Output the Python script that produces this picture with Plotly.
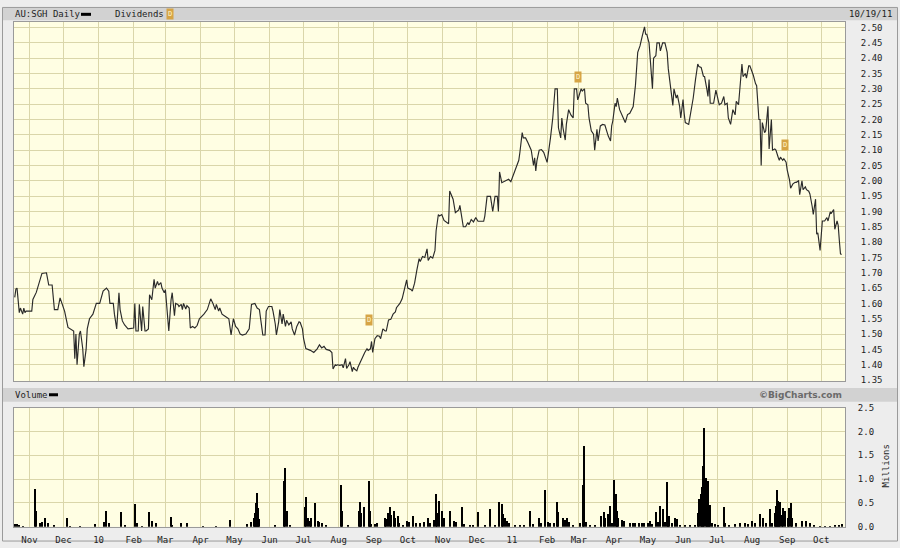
import plotly.graph_objects as go

# ---------------- data ----------------
price_dates = [
    "2009-10-19","2009-10-20","2009-10-21","2009-10-22","2009-10-23","2009-10-24","2009-10-26","2009-10-27","2009-10-28","2009-10-29",
    "2009-11-03","2009-11-04","2009-11-07","2009-11-12","2009-11-16","2009-11-18","2009-11-21","2009-11-23","2009-11-26","2009-11-28","2009-11-29",
    "2009-12-02","2009-12-05","2009-12-07","2009-12-10","2009-12-11","2009-12-12","2009-12-13","2009-12-15","2009-12-16","2009-12-18","2009-12-19","2009-12-21","2009-12-22","2009-12-24","2009-12-27","2009-12-30",
    "2010-01-02","2010-01-05","2010-01-08","2010-01-10","2010-01-11","2010-01-14","2010-01-15","2010-01-17","2010-01-19","2010-01-20","2010-01-22","2010-01-24","2010-01-27","2010-01-30",
    "2010-02-01","2010-02-02","2010-02-03","2010-02-05","2010-02-06","2010-02-08","2010-02-09","2010-02-11","2010-02-12","2010-02-14","2010-02-15","2010-02-17","2010-02-19","2010-02-20","2010-02-22","2010-02-23","2010-02-25","2010-02-26","2010-02-28",
    "2010-03-01","2010-03-03","2010-03-04","2010-03-06","2010-03-07","2010-03-09","2010-03-10","2010-03-12","2010-03-13","2010-03-15","2010-03-16","2010-03-17","2010-03-19","2010-03-20","2010-03-22","2010-03-23","2010-03-25","2010-03-27","2010-03-29","2010-03-31",
    "2010-04-04","2010-04-07","2010-04-10","2010-04-12","2010-04-14","2010-04-15","2010-04-17","2010-04-18","2010-04-20","2010-04-22","2010-04-24","2010-04-26","2010-04-28","2010-04-29","2010-04-30",
    "2010-05-02","2010-05-04","2010-05-06","2010-05-08","2010-05-11","2010-05-14","2010-05-16","2010-05-19","2010-05-21","2010-05-23","2010-05-26","2010-05-28","2010-05-29","2010-05-31",
    "2010-06-03","2010-06-04","2010-06-06","2010-06-07","2010-06-09","2010-06-10","2010-06-12","2010-06-13","2010-06-15","2010-06-16","2010-06-18","2010-06-20","2010-06-21","2010-06-23","2010-06-25","2010-06-27","2010-06-28","2010-06-30",
    "2010-07-01","2010-07-03","2010-07-07","2010-07-10","2010-07-13","2010-07-15","2010-07-17","2010-07-19","2010-07-21","2010-07-24","2010-07-26","2010-07-27","2010-07-29","2010-07-30","2010-07-31",
    "2010-08-02","2010-08-04","2010-08-05","2010-08-07","2010-08-08","2010-08-10","2010-08-11","2010-08-13","2010-08-14","2010-08-15","2010-08-17","2010-08-18","2010-08-20","2010-08-22","2010-08-24","2010-08-26","2010-08-27","2010-08-29","2010-08-30","2010-08-31",
    "2010-09-02","2010-09-04","2010-09-06","2010-09-07","2010-09-09","2010-09-11","2010-09-12","2010-09-14","2010-09-16","2010-09-18","2010-09-20","2010-09-21","2010-09-24","2010-09-26","2010-09-28","2010-09-30",
    "2010-10-01","2010-10-04","2010-10-05","2010-10-07","2010-10-09","2010-10-11","2010-10-12","2010-10-14","2010-10-16","2010-10-18","2010-10-19","2010-10-21","2010-10-23","2010-10-25","2010-10-26","2010-10-28","2010-10-29","2010-10-31",
    "2010-11-02","2010-11-04","2010-11-06","2010-11-07","2010-11-09","2010-11-10","2010-11-12","2010-11-13","2010-11-15","2010-11-16","2010-11-18","2010-11-19","2010-11-21","2010-11-23","2010-11-24","2010-11-26","2010-11-28","2010-11-30",
    "2010-12-02","2010-12-05","2010-12-07","2010-12-08","2010-12-10","2010-12-13","2010-12-15","2010-12-17","2010-12-19","2010-12-20","2010-12-21","2010-12-23","2010-12-26","2010-12-29","2010-12-31",
    "2011-01-04","2011-01-07","2011-01-08","2011-01-10","2011-01-11","2011-01-13","2011-01-15","2011-01-17","2011-01-18","2011-01-20","2011-01-21","2011-01-22","2011-01-23","2011-01-25","2011-01-27","2011-01-29","2011-01-31",
    "2011-02-01","2011-02-04","2011-02-06","2011-02-08","2011-02-10","2011-02-11","2011-02-13","2011-02-14","2011-02-15","2011-02-17","2011-02-18","2011-02-20","2011-02-22","2011-02-24","2011-02-25","2011-02-27","2011-02-28",
    "2011-03-01","2011-03-03","2011-03-04","2011-03-06","2011-03-07","2011-03-09","2011-03-10","2011-03-12","2011-03-14","2011-03-15","2011-03-17","2011-03-18","2011-03-20","2011-03-22","2011-03-24","2011-03-26","2011-03-27","2011-03-29","2011-03-30","2011-03-31",
    "2011-04-02","2011-04-03","2011-04-04","2011-04-06","2011-04-08","2011-04-09","2011-04-11","2011-04-13","2011-04-15","2011-04-18","2011-04-20","2011-04-22","2011-04-24","2011-04-26","2011-04-28","2011-04-29","2011-04-30",
    "2011-05-02","2011-05-03","2011-05-05","2011-05-06","2011-05-08","2011-05-09","2011-05-11","2011-05-12","2011-05-14","2011-05-16","2011-05-18","2011-05-19","2011-05-21","2011-05-23","2011-05-24","2011-05-26","2011-05-27","2011-05-29","2011-05-30",
    "2011-06-01","2011-06-02","2011-06-03","2011-06-06","2011-06-07","2011-06-09","2011-06-10","2011-06-12","2011-06-14","2011-06-15","2011-06-17","2011-06-19","2011-06-20","2011-06-22","2011-06-23","2011-06-24","2011-06-25","2011-06-28","2011-06-29","2011-06-30",
    "2011-07-03","2011-07-05","2011-07-07","2011-07-08","2011-07-10","2011-07-11","2011-07-13","2011-07-14","2011-07-15","2011-07-17","2011-07-18","2011-07-20","2011-07-21","2011-07-23","2011-07-24","2011-07-26","2011-07-27","2011-07-29","2011-07-30","2011-07-31",
    "2011-08-02","2011-08-04","2011-08-05","2011-08-07","2011-08-08","2011-08-09","2011-08-10","2011-08-12","2011-08-13","2011-08-15","2011-08-16","2011-08-18","2011-08-19","2011-08-21","2011-08-22","2011-08-24","2011-08-25","2011-08-26","2011-08-28","2011-08-29","2011-08-31",
    "2011-09-01","2011-09-03","2011-09-04","2011-09-06","2011-09-08","2011-09-09","2011-09-11","2011-09-12","2011-09-14","2011-09-15","2011-09-17","2011-09-18","2011-09-20","2011-09-21","2011-09-23","2011-09-24","2011-09-26","2011-09-27","2011-09-28","2011-09-30",
    "2011-10-02","2011-10-04","2011-10-06","2011-10-07","2011-10-09","2011-10-10","2011-10-12","2011-10-13","2011-10-15","2011-10-16","2011-10-17","2011-10-18","2011-10-19",
]
price_close = [
    1.62,1.647,1.65,1.603,1.57,1.585,1.565,1.585,1.57,1.575,
    1.575,1.613,1.636,1.698,1.70,1.66,1.66,1.58,1.58,1.618,1.607,
    1.575,1.522,1.517,1.51,1.42,1.50,1.40,1.50,1.51,1.453,1.394,1.45,1.517,1.55,1.565,1.60,
    1.60,1.64,1.65,1.64,1.60,1.60,1.565,1.517,1.635,1.58,1.543,1.53,1.517,1.52,
    1.52,1.60,1.51,1.51,1.597,1.51,1.59,1.51,1.51,1.517,1.628,1.612,1.679,1.65,1.672,1.66,1.668,1.65,1.635,
    1.645,1.554,1.51,1.612,1.635,1.56,1.60,1.597,1.59,1.597,1.58,1.60,1.582,1.593,1.585,1.52,1.525,1.52,1.528,1.55,
    1.565,1.58,1.615,1.60,1.58,1.597,1.575,1.585,1.565,1.56,1.554,1.55,1.497,1.533,1.55,
    1.525,1.517,1.50,1.497,1.50,1.517,1.597,1.60,1.585,1.58,1.497,1.497,1.575,1.59,
    1.59,1.575,1.533,1.497,1.54,1.58,1.533,1.565,1.525,1.545,1.53,1.54,1.517,1.497,1.525,1.54,1.538,1.517,
    1.485,1.453,1.447,1.44,1.452,1.465,1.455,1.46,1.45,1.447,1.44,1.386,1.40,1.398,1.40,
    1.398,1.40,1.39,1.42,1.388,1.40,1.41,1.378,1.392,1.386,1.38,1.392,1.41,1.425,1.44,1.452,1.447,1.452,1.476,1.44,
    1.485,1.495,1.493,1.485,1.517,1.51,1.51,1.546,1.548,1.565,1.572,1.586,1.60,1.615,1.645,1.677,
    1.65,1.645,1.64,1.666,1.709,1.746,1.737,1.753,1.75,1.778,1.74,1.753,1.748,1.773,1.837,1.89,1.885,1.89,
    1.871,1.866,1.86,1.967,1.944,1.94,1.896,1.90,1.905,1.92,1.864,1.85,1.85,1.864,1.857,1.874,1.866,1.88,
    1.868,1.868,1.868,1.885,1.949,1.949,1.90,1.949,1.949,1.90,2.029,1.994,2.0,2.005,1.997,
    2.035,2.067,2.093,2.157,2.14,2.14,2.125,2.104,2.10,2.05,2.075,2.032,2.065,2.10,2.102,2.093,2.075,
    2.06,2.141,2.205,2.30,2.30,2.173,2.14,2.205,2.173,2.133,2.184,2.232,2.215,2.205,2.30,2.30,2.264,
    2.275,2.30,2.293,2.30,2.253,2.248,2.205,2.163,2.152,2.10,2.168,2.13,2.179,2.184,2.182,2.157,2.146,2.13,2.179,2.195,
    2.253,2.242,2.27,2.232,2.216,2.205,2.19,2.216,2.22,2.242,2.312,2.419,2.44,2.472,2.502,2.478,2.478,
    2.45,2.387,2.30,2.40,2.408,2.45,2.45,2.424,2.45,2.45,2.419,2.365,2.30,2.246,2.30,2.27,2.28,2.243,2.205,
    2.265,2.22,2.19,2.184,2.205,2.25,2.27,2.33,2.381,2.373,2.37,2.341,2.34,2.30,2.275,2.33,2.253,2.253,2.275,2.296,
    2.248,2.253,2.275,2.248,2.253,2.205,2.184,2.205,2.232,2.215,2.259,2.248,2.285,2.381,2.34,2.35,2.335,2.375,2.375,2.365,
    2.345,2.317,2.31,2.20,2.20,2.05,2.19,2.157,2.163,2.243,2.104,2.20,2.10,2.104,2.10,2.077,2.067,2.077,2.067,2.072,2.061,
    2.035,2.003,1.976,1.99,1.995,1.995,2.0,1.955,2.0,1.971,1.98,1.971,1.966,1.957,1.917,1.89,1.94,1.826,1.83,1.773,
    1.869,1.869,1.88,1.869,1.899,1.895,1.906,1.842,1.869,1.855,1.805,1.762,1.76,
]

vol_dates = [
    "2009-10-19","2009-10-21","2009-10-23","2009-10-26",
    "2009-11-06","2009-11-07","2009-11-10","2009-11-12","2009-11-15","2009-11-17","2009-11-23",
    "2009-12-04","2009-12-07","2009-12-16","2009-12-29",
    "2010-01-06","2010-01-08","2010-01-10","2010-01-21","2010-01-24",
    "2010-02-02","2010-02-04","2010-02-08","2010-02-15","2010-02-17","2010-02-21",
    "2010-03-06","2010-03-07","2010-03-15","2010-03-20",
    "2010-04-03","2010-04-15","2010-04-27",
    "2010-05-12","2010-05-16","2010-05-18","2010-05-19","2010-05-20","2010-05-21","2010-05-22","2010-05-23",
    "2010-06-06","2010-06-14","2010-06-15","2010-06-16","2010-06-19",
    "2010-07-02","2010-07-03","2010-07-05","2010-07-07","2010-07-08","2010-07-11","2010-07-14","2010-07-15","2010-07-17","2010-07-21",
    "2010-08-03","2010-08-04","2010-08-09","2010-08-19","2010-08-20","2010-08-21","2010-08-23","2010-08-28","2010-08-29","2010-08-30",
    "2010-09-02","2010-09-04","2010-09-11","2010-09-12","2010-09-14","2010-09-15","2010-09-16","2010-09-19","2010-09-20","2010-09-22","2010-09-23","2010-09-27","2010-09-30",
    "2010-10-02","2010-10-06","2010-10-08","2010-10-12","2010-10-15","2010-10-19","2010-10-21","2010-10-24","2010-10-26","2010-10-27","2010-10-29","2010-10-31",
    "2010-11-02","2010-11-07","2010-11-11","2010-11-13","2010-11-18","2010-11-20","2010-11-25","2010-11-28",
    "2010-12-02","2010-12-08","2010-12-13","2010-12-17","2010-12-21","2010-12-23","2010-12-24","2010-12-26","2010-12-28","2010-12-29",
    "2011-01-04","2011-01-08","2011-01-12","2011-01-17","2011-01-20","2011-01-25","2011-01-27","2011-01-30",
    "2011-02-02","2011-02-04","2011-02-07","2011-02-10","2011-02-11","2011-02-15","2011-02-17","2011-02-19","2011-02-20","2011-02-24",
    "2011-03-02","2011-03-05","2011-03-06","2011-03-07","2011-03-11","2011-03-15","2011-03-21","2011-03-23","2011-03-24","2011-03-27","2011-03-29","2011-03-30",
    "2011-04-01","2011-04-03","2011-04-04","2011-04-05","2011-04-08","2011-04-10","2011-04-15","2011-04-18","2011-04-20","2011-04-23","2011-04-26","2011-04-28",
    "2011-05-01","2011-05-03","2011-05-05","2011-05-08","2011-05-10","2011-05-12","2011-05-14","2011-05-16","2011-05-18","2011-05-19","2011-05-20","2011-05-22","2011-05-25","2011-05-27","2011-05-29",
    "2011-06-03","2011-06-07","2011-06-12","2011-06-14","2011-06-15","2011-06-17","2011-06-18","2011-06-19","2011-06-20","2011-06-21","2011-06-22","2011-06-23","2011-06-24","2011-06-25","2011-06-27","2011-06-29",
    "2011-07-02","2011-07-07","2011-07-08","2011-07-12","2011-07-17","2011-07-21","2011-07-26","2011-07-28",
    "2011-08-01","2011-08-04","2011-08-08","2011-08-11","2011-08-13","2011-08-17","2011-08-19","2011-08-21","2011-08-22","2011-08-23","2011-08-24","2011-08-25","2011-08-26","2011-08-27","2011-08-28","2011-08-30",
    "2011-09-02","2011-09-03","2011-09-04","2011-09-05","2011-09-09","2011-09-14","2011-09-18","2011-09-21","2011-09-25","2011-09-30",
    "2011-10-04","2011-10-09","2011-10-13","2011-10-17","2011-10-19",
]
vol_millions = [
    0.06,0.07,0.05,0.03,
    0.80,0.35,0.10,0.12,0.20,0.08,0.04,
    0.20,0.03,0.03,0.06,
    0.12,0.35,0.10,0.31,0.04,
    0.49,0.10,0.03,0.31,0.14,0.10,
    0.22,0.05,0.10,0.08,
    0.03,0.03,0.15,
    0.06,0.12,0.20,0.30,0.50,0.71,0.40,0.18,
    0.04,0.98,1.24,0.35,0.04,
    0.42,0.64,0.20,0.14,0.20,0.50,0.14,0.12,0.10,0.05,
    0.88,0.35,0.05,0.35,0.53,0.30,0.42,0.97,0.35,0.06,
    0.06,0.08,0.20,0.18,0.30,0.43,0.25,0.35,0.20,0.24,0.10,0.05,0.14,
    0.12,0.24,0.08,0.10,0.12,0.20,0.08,0.15,0.69,0.30,0.55,0.35,
    0.20,0.35,0.14,0.12,0.42,0.06,0.05,0.04,
    0.31,0.04,0.38,0.04,0.52,0.49,0.28,0.20,0.14,0.10,
    0.04,0.04,0.05,0.35,0.06,0.20,0.08,0.79,
    0.12,0.08,0.10,0.52,0.31,0.20,0.16,0.20,0.12,0.05,
    0.10,0.88,1.70,0.12,0.05,0.05,0.24,0.31,0.20,0.28,0.45,0.10,
    0.99,0.70,0.35,0.20,0.15,0.14,0.09,0.09,0.09,0.09,0.08,0.09,
    0.08,0.14,0.06,0.31,0.12,0.45,0.38,0.12,0.95,0.15,0.24,0.08,0.20,0.18,0.05,
    0.04,0.05,0.04,0.30,0.60,0.70,0.85,1.28,2.08,1.04,0.60,0.98,0.30,0.47,0.10,0.06,
    0.05,0.43,0.08,0.05,0.06,0.08,0.10,0.06,
    0.14,0.08,0.28,0.20,0.10,0.38,0.10,0.30,0.45,0.78,0.56,0.40,0.53,0.25,0.40,0.35,
    0.20,0.40,0.50,0.20,0.10,0.14,0.14,0.08,0.04,0.03,
    0.03,0.03,0.04,0.05,0.06,
]

dividend_dates = ["2010-08-28", "2011-02-28", "2011-08-30"]
dividend_marker_level = [1.545, 2.34, 2.118]

month_ticks = [
    "2009-11-01","2009-12-01","2010-01-01","2010-02-01","2010-03-01","2010-04-01",
    "2010-05-01","2010-06-01","2010-07-01","2010-08-01","2010-09-01","2010-10-01",
    "2010-11-01","2010-12-01","2011-01-01","2011-02-01","2011-03-01","2011-04-01",
    "2011-05-01","2011-06-01","2011-07-01","2011-08-01","2011-09-01","2011-10-01",
]
month_labels = ["Nov","Dec","10","Feb","Mar","Apr","May","Jun","Jul","Aug","Sep","Oct",
                "Nov","Dec","11","Feb","Mar","Apr","May","Jun","Jul","Aug","Sep","Oct"]

x_range = ["2009-10-18 08:00", "2011-10-22 00:00"]
price_range = [1.347, 2.519]
volume_range = [0, 2.5]

assert len(price_dates) == len(price_close)
assert len(vol_dates) == len(vol_millions)

# ---------------- styling / layout ----------------
W, H = 900, 548
def px(x):
    return x / W
def py(y):
    return 1 - y / H

FONT = "DejaVu Sans Mono"
TXT = "#1e1e1e"
GRID = "#dad6aa"
PLOT_BG = "#fffee3"
PAPER_BG = "#ededed"
BAR_BG = "#d2d2d2"
BORDER = "#9a9a9a"

fig = go.Figure()
fig.add_trace(go.Scatter(
    x=price_dates, y=price_close, mode="lines",
    line=dict(color="#2a2a2a", width=1.15),
    xaxis="x", yaxis="y", hoverinfo="skip", showlegend=False,
))
fig.add_trace(go.Bar(
    x=vol_dates, y=vol_millions,
    marker=dict(color="#000000", line=dict(width=0)),
    width=1.0 * 86400000,
    xaxis="x2", yaxis="y2", hoverinfo="skip", showlegend=False,
))

xdom = [px(14), px(845)]
axis_common = dict(showgrid=True, gridcolor=GRID, gridwidth=1, zeroline=False,
                   showline=True, linecolor=BORDER, linewidth=1, mirror=True,
                   ticks="", tickfont=dict(family=FONT, size=9, color=TXT))

fig.update_layout(
    width=W, height=H,
    margin=dict(l=0, r=0, t=0, b=0),
    paper_bgcolor=PAPER_BG, plot_bgcolor=PLOT_BG,
    showlegend=False, bargap=0,
    xaxis=dict(domain=xdom, anchor="y", type="date", range=x_range,
               tickmode="array", tickvals=month_ticks, showticklabels=False,
               **axis_common),
    yaxis=dict(domain=[py(383), py(17)], anchor="x", side="right", range=price_range,
               tick0=1.35, dtick=0.05, tickformat=".2f", ticklabelstandoff=13,
               **axis_common),
    xaxis2=dict(domain=xdom, anchor="y2", type="date", range=x_range,
                tickmode="array", tickvals=month_ticks, ticktext=month_labels,
                ticklabelstandoff=4, **axis_common),
    yaxis2=dict(domain=[py(531.5), py(410)], anchor="x2", side="right", range=volume_range,
                tick0=0, dtick=0.5, tickformat=".1f", ticklabelstandoff=10,
                **axis_common),
)

shapes = [
    dict(type="rect", xref="paper", yref="paper", x0=px(2.5), x1=px(897.5), y0=py(546), y1=py(2.5),
         line=dict(color=BORDER, width=1), fillcolor="rgba(0,0,0,0)", layer="below"),
    dict(type="rect", xref="paper", yref="paper", x0=px(3), x1=px(897), y0=py(15.5), y1=py(3),
         line=dict(width=0), fillcolor=BAR_BG, layer="below"),
    dict(type="rect", xref="paper", yref="paper", x0=px(3), x1=px(897), y0=py(404), y1=py(390),
         line=dict(width=0), fillcolor=BAR_BG, layer="below"),
    dict(type="line", xref="paper", yref="paper", x0=px(81), x1=px(91), y0=py(9.5), y1=py(9.5),
         line=dict(color="#000000", width=3)),
    dict(type="line", xref="paper", yref="paper", x0=px(49), x1=px(58), y0=py(397), y1=py(397),
         line=dict(color="#000000", width=3)),
]
fig.update_layout(shapes=shapes)

hdr_font = dict(family=FONT, size=9, color=TXT)
annotations = [
    dict(text="AU:SGH Daily", x=px(13), y=py(9.5), xanchor="left", yanchor="middle"),
    dict(text="Dividends", x=px(113), y=py(9.5), xanchor="left", yanchor="middle"),
    dict(text="10/19/11", x=px(894), y=py(9.5), xanchor="right", yanchor="middle"),
    dict(text="Volume", x=px(13), y=py(397), xanchor="left", yanchor="middle"),
    dict(text="<b>©BigCharts.com</b>", x=px(844), y=py(397), xanchor="right", yanchor="middle",
         font=dict(family="DejaVu Sans", size=9, color="#6a6a6a")),
    dict(text="Millions", x=px(886), y=py(470), xanchor="center", yanchor="middle", textangle=-90),
    dict(text="D", x=px(169.5), y=py(9.5), xanchor="center", yanchor="middle",
         bgcolor="#d6a445", borderpad=1, font=dict(family=FONT, size=7, color="#fff4cc")),
]
for a in annotations:
    a.setdefault("font", hdr_font)
    a.update(xref="paper", yref="paper", showarrow=False)

for d, lvl in zip(dividend_dates, dividend_marker_level):
    annotations.append(dict(text="D", x=d, y=lvl, xref="x", yref="y", showarrow=False,
                            xanchor="center", yanchor="middle", bgcolor="#d6a445", borderpad=1,
                            font=dict(family=FONT, size=7, color="#fff4cc")))
fig.update_layout(annotations=annotations)

fig.write_html("out.html", config={"displayModeBar": False},
               post_script="document.body.style.margin='0';document.body.style.overflow='hidden';")
